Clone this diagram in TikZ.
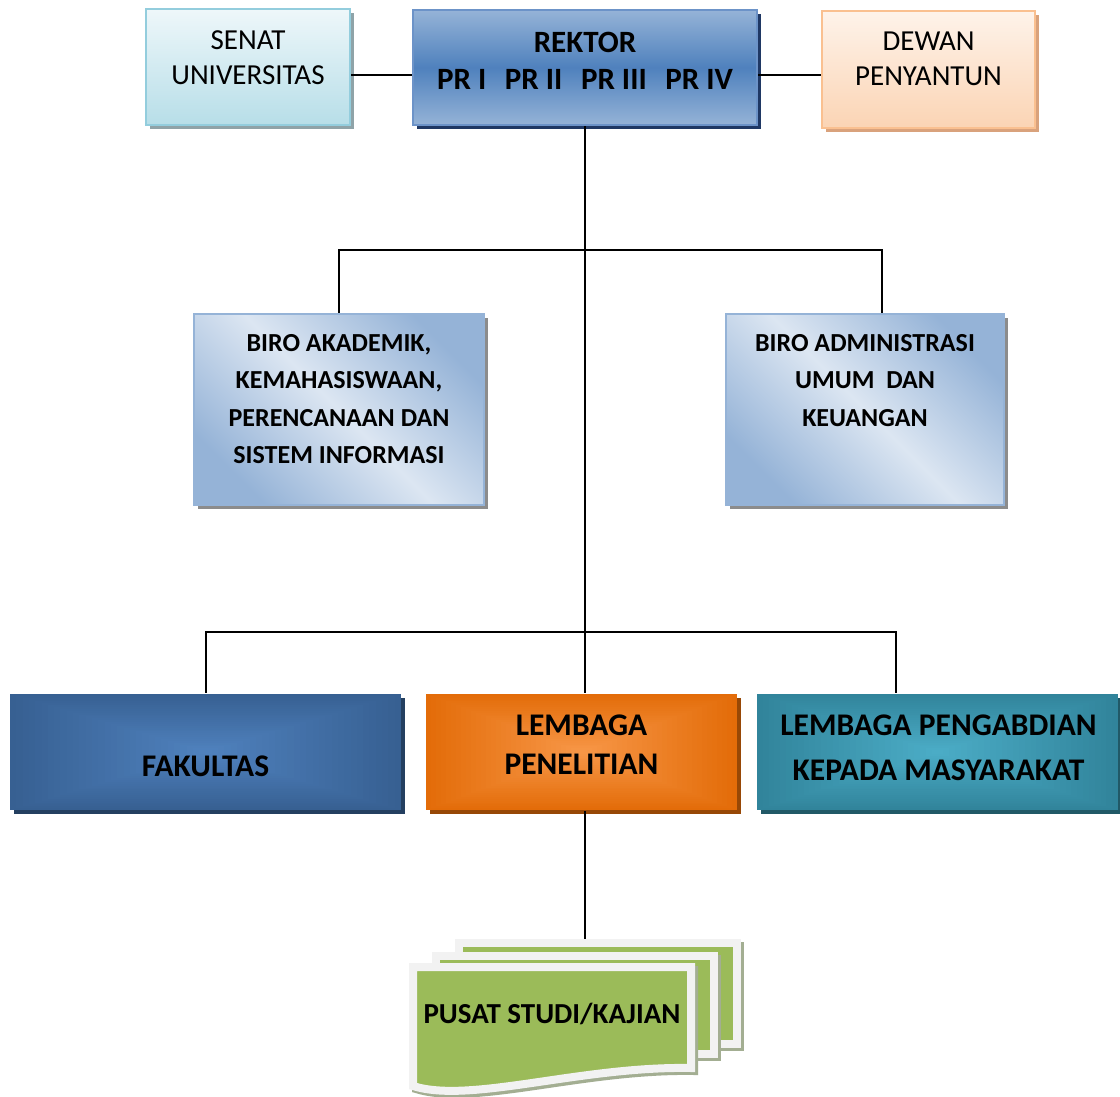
\documentclass[tikz,border=0pt]{standalone}
\usepackage{fontspec}
\setmainfont{Carlito}
\usetikzlibrary{calc}
\definecolor{senatTop}{HTML}{EEF7FA}
\definecolor{senatBot}{HTML}{B7DEE8}
\definecolor{senatLine}{HTML}{93CDDD}
\definecolor{senatSh}{HTML}{8FA3A8}
\definecolor{rekLight}{HTML}{95B3D7}
\definecolor{rekMid}{HTML}{4F81BD}
\definecolor{rekLine}{HTML}{6C93C8}
\definecolor{rekSh}{HTML}{1F3864}
\definecolor{dewTop}{HTML}{FEF3EA}
\definecolor{dewBot}{HTML}{FBD4B4}
\definecolor{dewLine}{HTML}{FAC090}
\definecolor{dewSh}{HTML}{D9A27C}
\definecolor{biroDark}{HTML}{95B3D7}
\definecolor{biroLight}{HTML}{DCE6F2}
\definecolor{biroLine}{HTML}{95B3D7}
\definecolor{biroSh}{HTML}{8C8C8C}
\definecolor{fakOut}{HTML}{376092}
\definecolor{fakIn}{HTML}{4F81BD}
\definecolor{fakSh}{HTML}{243F60}
\definecolor{lpOut}{HTML}{E36C09}
\definecolor{lpIn}{HTML}{F79646}
\definecolor{lpSh}{HTML}{974806}
\definecolor{lpmOut}{HTML}{31849B}
\definecolor{lpmIn}{HTML}{4BACC6}
\definecolor{lpmSh}{HTML}{215967}
\definecolor{sheetGreen}{HTML}{9BBB59}
\definecolor{sheetBorder}{HTML}{F2F2F2}
\definecolor{sheetSh}{HTML}{A3AE92}
\tikzset{
  conn/.style={draw=black, line width=2pt},
  box/.style={rectangle, inner sep=0pt, line width=2.5pt},
  shadowed/.style={preaction={fill=#1, transform canvas={shift={(4pt,-4pt)}}}},
  glow/.style n args={2}{fill=#1, path picture={
    \foreach \i in {0,...,30}{
      \pgfmathsetmacro{\gf}{\i/31}
      \pgfmathsetmacro{\gp}{100*\i/30}
      \fill[#2!\gp!#1] ($(path picture bounding box.south west)!\gf!(path picture bounding box.center)$) rectangle ($(path picture bounding box.north east)!\gf!(path picture bounding box.center)$);
    }}},
  sheet/.style={rectangle, inner sep=0pt, fill=sheetGreen, draw=sheetBorder, line width=8pt,
    preaction={fill=sheetSh, draw=sheetSh, line width=8pt, transform canvas={shift={(3pt,-3pt)}}}},
  regtxt/.style={align=center, font=\fontsize{29}{35}\selectfont},
  rektxt/.style={align=center, font=\bfseries\fontsize{31}{37}\selectfont},
  birotxt/.style={align=center, font=\bfseries\fontsize{26}{37.5}\selectfont},
}
\begin{document}
\begin{tikzpicture}[x=1pt,y=-1pt]
\useasboundingbox[fill=white] (0,0) rectangle (1120,1097);
\coordinate (y250) at (0,250);
\coordinate (y632) at (0,632);

% top row
\node[box, shadowed=senatSh, top color=senatTop, bottom color=senatBot, draw=senatLine,
  minimum width=204, minimum height=116] (senat) at (248,67) {};
\node[regtxt] (senatT) at (248,57.5) {SENAT\\UNIVERSITAS};

\node[box, shadowed=rekSh, top color=rekLight, bottom color=rekLight, middle color=rekMid, draw=rekLine,
  minimum width=344, minimum height=115] (rektor) at (585,67.5) {};
\node[rektxt] (rektorT) at (585,60.5) {REKTOR\\PR I\hspace{0.6em}PR II\hspace{0.6em}PR III\hspace{0.6em}PR IV};

\node[box, shadowed=dewSh, top color=dewTop, bottom color=dewBot, draw=dewLine,
  minimum width=213, minimum height=117] (dewan) at (928.5,69.5) {};
\node[regtxt] (dewanT) at (928.5,58.5) {DEWAN\\PENYANTUN};

% biro row
\node[box, shadowed=biroSh, top color=biroDark, bottom color=biroDark, middle color=biroLight, shading angle=-45, draw=biroLine,
  minimum width=290, minimum height=191] (biroA) at (339,409.5) {};
\node[birotxt] (biroAT) at (339,399) {BIRO AKADEMIK,\\KEMAHASISWAAN,\\PERENCANAAN DAN\\SISTEM INFORMASI};

\node[box, shadowed=biroSh, top color=biroDark, bottom color=biroDark, middle color=biroLight, shading angle=-45, draw=biroLine,
  minimum width=278, minimum height=191] (biroB) at (865,409.5) {};
\node[birotxt] (biroBT) at (865,380.5) {BIRO ADMINISTRASI\\UMUM\ \ DAN\\KEUANGAN};

% bottom row
\node[box, shadowed=fakSh, glow={fakOut}{fakIn}, minimum width=391, minimum height=116] (fak) at (205.5,752) {};
\node[font=\bfseries\fontsize{31.5}{38}\selectfont] (fakT) at (205.5,766) {FAKULTAS};

\node[box, shadowed=lpSh, glow={lpOut}{lpIn}, minimum width=311, minimum height=116] (lp) at (581.5,752) {};
\node[align=center, font=\bfseries\fontsize{31.5}{39}\selectfont] (lpT) at (581.5,744.5) {LEMBAGA\\PENELITIAN};

\node[box, shadowed=lpmSh, glow={lpmOut}{lpmIn}, minimum width=361, minimum height=116] (lpm) at (937.5,752) {};
\node[align=center, font=\bfseries\fontsize{31.5}{45}\selectfont] (lpmT) at (938.5,747.5) {LEMBAGA PENGABDIAN\\KEPADA MASYARAKAT};

% multi-document
\node[sheet, minimum width=278, minimum height=101] (sheet3) at (598,993.5) {};
\node[sheet, minimum width=278, minimum height=98] (sheet2) at (575,1005) {};
\path[fill=sheetSh, draw=sheetSh, line width=8pt, transform canvas={shift={(3pt,-3pt)}}]
  (413,967) -- (691,967) -- (691,1068) .. controls (580,1066) and (470,1104) .. (413,1086) -- cycle;
\path[fill=sheetGreen, draw=sheetBorder, line width=8pt]
  (413,967) -- (691,967) -- (691,1068) .. controls (580,1066) and (470,1104) .. (413,1086) -- cycle;
\node[font=\bfseries\fontsize{29}{35}\selectfont] (pusat) at (552,1014) {PUSAT STUDI/KAJIAN};

% connectors
\draw[conn] ([yshift=-8pt]senat.east) -- ([yshift=-8pt]senat.east -| rektor.west);
\draw[conn] ([yshift=-7.5pt]rektor.east) -- ([yshift=-7.5pt]rektor.east -| dewan.west);
\coordinate (j1) at (rektor.south |- y250);
\coordinate (j2) at (rektor.south |- y632);
\draw[conn] (rektor.south) -- (rektor.south |- lp.north);
\draw[conn] (biroA.north) |- (j1) -| ([xshift=17pt]biroB.north);
\draw[conn] (fak.north) |- (j2) -| ([xshift=-41.5pt]lpm.north);
\draw[conn] (rektor.south |- lp.south) -- (rektor.south |- sheet3.north);
\end{tikzpicture}
\end{document}
